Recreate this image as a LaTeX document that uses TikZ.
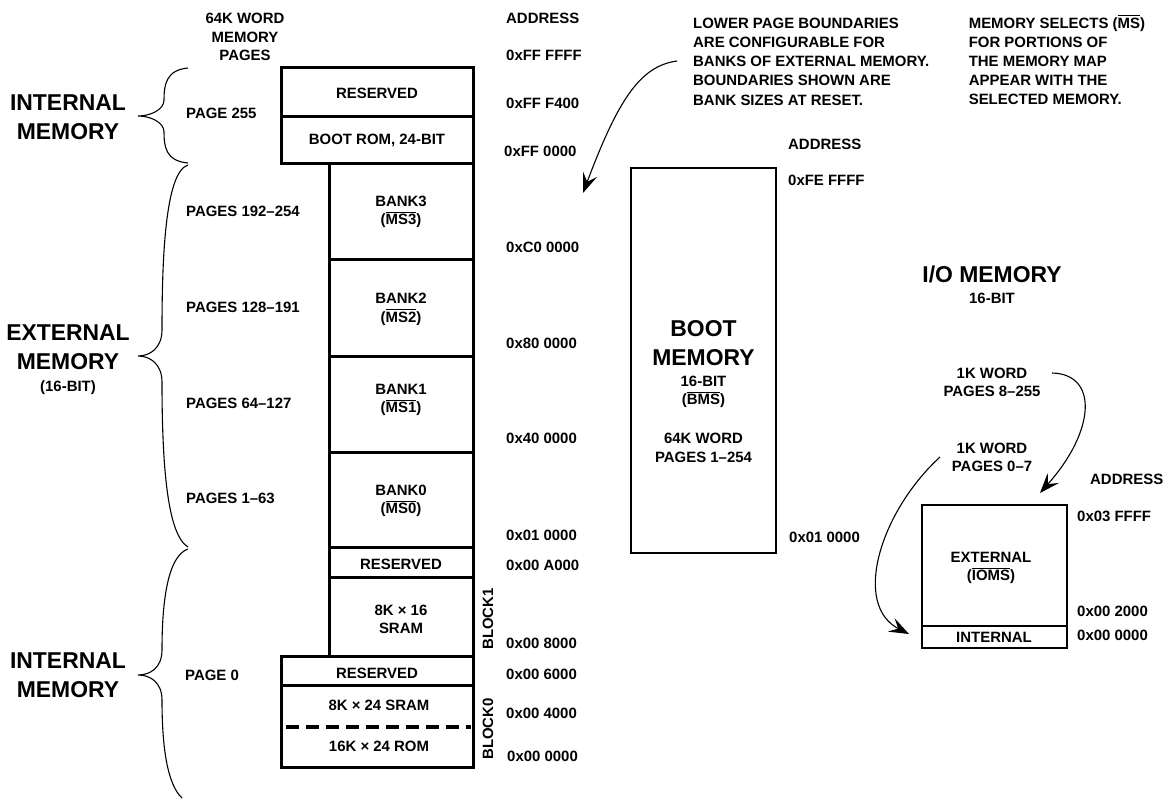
\documentclass[tikz,border=0pt]{standalone}
\usepackage{fontspec}
\setmainfont{Liberation Sans}
\usetikzlibrary{arrows.meta}
\newcommand\ovl[1]{\vbox{\hrule height 1.2pt\kern 1.6pt\hbox{#1}}}
\begin{document}
\begin{tikzpicture}[x=1bp,y=-1bp,
  sm/.style={font=\fontsize{15}{18.6}\selectfont\bfseries, inner sep=0pt, align=center},
  ann/.style={font=\fontsize{15}{19.3}\selectfont\bfseries, inner sep=0pt, align=left, anchor=west},
  big/.style={font=\fontsize{23}{29}\selectfont\bfseries, inner sep=0pt, align=center},
  addr/.style={sm, anchor=west},
  memblock/.style={line width=3bp},
  arr/.style={line width=1.1bp, -{Stealth[length=20bp,width=15bp,inset=8bp]}},
  brace/.style={line width=1.1bp}]
\useasboundingbox[fill=white] (0,0) rectangle (1173,801);

% ---- main memory stack ----
\draw[memblock] (281,68) rectangle (473,116);
\draw[memblock] (281,116) rectangle (473,163);
\draw[memblock] (329,163) rectangle (473,259);
\draw[memblock] (329,259) rectangle (473,356);
\draw[memblock] (329,356) rectangle (473,452);
\draw[memblock] (329,452) rectangle (473,547);
\draw[memblock] (329,547) rectangle (473,577);
\draw[memblock] (329,577) rectangle (473,656);
\draw[memblock] (281,656) rectangle (473,685);
\draw[memblock] (281,685) rectangle (473,767);
\draw[line width=3.2bp, dash pattern=on 13bp off 7bp] (286,727) -- (471,727);

\node[sm] (hdrpages) at (245,37) {64K WORD\\MEMORY\\PAGES};
\node[addr] (hdraddr) at (506,18) {ADDRESS};

\node[sm] (res1) at (377,93) {RESERVED};
\node[sm] (bootrom) at (377,140) {BOOT ROM, 24-BIT};
\node[sm] (bank3) at (401,212) {BANK3\\(\ovl{MS3})};
\node[sm] (bank2) at (401,309.5) {BANK2\\(\ovl{MS2})};
\node[sm] (bank1) at (401,400) {BANK1\\(\ovl{MS1})};
\node[sm] (bank0) at (401,501) {BANK0\\(\ovl{MS0})};
\node[sm] (res2) at (401,564) {RESERVED};
\node[sm] (sram16) at (401,619.5) {8K × 16\\SRAM};
\node[sm] (res3) at (377,673) {RESERVED};
\node[sm] (sram24) at (379,705) {8K × 24 SRAM};
\node[sm] (rom24) at (379,746) {16K × 24 ROM};
\node[sm, rotate=90] (blk1) at (488,619) {BLOCK1};
\node[sm, rotate=90] (blk0) at (488,729) {BLOCK0};

\node[addr] (a1) at (506,55) {0xFF FFFF};
\node[addr] (a2) at (506,103) {0xFF F400};
\node[addr] (a3) at (504,151) {0xFF 0000};
\node[addr] (a4) at (506,247) {0xC0 0000};
\node[addr] (a5) at (506,343) {0x80 0000};
\node[addr] (a6) at (506,438) {0x40 0000};
\node[addr] (a7) at (506,535) {0x01 0000};
\node[addr] (a8) at (506,565) {0x00 A000};
\node[addr] (a9) at (506,643) {0x00 8000};
\node[addr] (a10) at (506,674) {0x00 6000};
\node[addr] (a11) at (506,713) {0x00 4000};
\node[addr] (a12) at (507,756) {0x00 0000};

\node[addr] (p255) at (186,113) {PAGE 255};
\node[addr] (p192) at (186,211) {PAGES 192--254};
\node[addr] (p128) at (186,307) {PAGES 128--191};
\node[addr] (p64) at (186,403) {PAGES 64--127};
\node[addr] (p1) at (186,498) {PAGES 1--63};
\node[addr] (p0) at (185,675) {PAGE 0};

\node[big] (intmem1) at (68,117) {INTERNAL\\MEMORY};
\node[big] (extmem) at (68,347.5) {EXTERNAL\\MEMORY};
\node[sm] (ext16) at (68,388) {(16-BIT)};
\node[big] (intmem2) at (68,675) {INTERNAL\\MEMORY};

% braces
\draw[brace] (188,68) .. controls (166,70) and (164,85) .. (164,100) .. controls (164,110) and (150,116) .. (138,116) .. controls (150,116) and (164,122) .. (164,132) .. controls (164,147) and (166,161) .. (188,163);
\draw[brace] (188,165) .. controls (165,172) and (162,260) .. (162,330) .. controls (162,348) and (150,356) .. (138,356) .. controls (150,356) and (162,364) .. (162,382) .. controls (162,470) and (168,535) .. (188,547);
\draw[brace] (188,549) .. controls (168,556) and (162,600) .. (162,650) .. controls (162,668) and (150,675) .. (138,675) .. controls (150,675) and (162,682) .. (162,700) .. controls (162,750) and (168,785) .. (182,798);

% ---- boot memory ----
\draw[line width=2.8bp] (631,168) rectangle (776,553);
\node[big] (bootmem) at (703.5,343.5) {BOOT\\MEMORY};
\node[sm] (boot16) at (703.5,392) {16-BIT\\(\ovl{BMS})};
\node[sm] (boot64) at (703.5,448) {64K WORD\\PAGES 1--254};
\node[addr] (baddr) at (788,144) {ADDRESS};
\node[addr] (b1) at (788,180) {0xFE FFFF};
\node[addr] (b2) at (789,537) {0x01 0000};

% ---- notes ----
\node[ann] (note1) at (693,61.5) {LOWER PAGE BOUNDARIES\\ARE CONFIGURABLE FOR\\BANKS OF EXTERNAL MEMORY.\\BOUNDARIES SHOWN ARE\\BANK SIZES AT RESET.};
\node[ann] (note2) at (968.6,60) {MEMORY SELECTS (\ovl{MS})\\FOR PORTIONS OF\\THE MEMORY MAP\\APPEAR WITH THE\\SELECTED MEMORY.};
\coordinate (n1s) at (677,61);
\coordinate (n1e) at (583,193);
\draw[arr] (n1s) .. controls (640,66) and (618,100) .. (n1e);

% ---- I/O memory ----
\node[big] (iomem) at (992,274) {I/O MEMORY};
\node[sm] (io16) at (992,298) {16-BIT};
\node[sm] (iohi) at (992,382.5) {1K WORD\\PAGES 8--255};
\node[sm] (iolo) at (992,457.5) {1K WORD\\PAGES 0--7};
\node[addr] (ioaddr) at (1090,479) {ADDRESS};
\node[addr] (io1) at (1077,516) {0x03 FFFF};
\node[addr] (io2) at (1077,611) {0x00 2000};
\node[addr] (io3) at (1077,635) {0x00 0000};
\draw[line width=2.8bp] (922,505) rectangle (1067,626);
\draw[line width=2.8bp] (922,626) rectangle (1067,648);
\node[sm] (ioext) at (991,568) {EXTERNAL\\(\ovl{IOMS})};
\node[sm] (ioint) at (994,637) {INTERNAL};
\coordinate (a2s) at (1052,373);
\coordinate (a2e) at (1040,493);
\draw[arr] (a2s) .. controls (1098,374) and (1096,430) .. (a2e);
\coordinate (a3s) at (940,457);
\coordinate (a3e) at (909,634);
\draw[arr] (a3s) .. controls (880,512) and (852,605) .. (a3e);
\end{tikzpicture}
\end{document}
